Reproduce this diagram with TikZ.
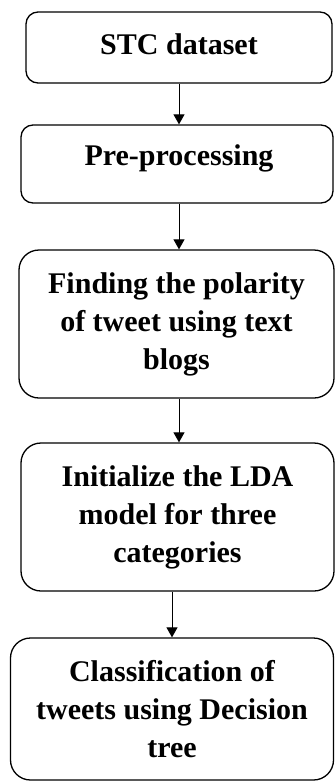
\documentclass[tikz,border=0pt]{standalone}
\usepackage{fontspec}
\setmainfont{Liberation Serif}
\usetikzlibrary{arrows.meta}
\begin{document}
\begin{tikzpicture}[x=1pt,y=1pt,
  stepbox/.style={draw, line width=1.3pt, rounded corners=12pt, align=center,
    inner sep=0pt, font=\fontsize{30}{38}\selectfont\bfseries},
  arr/.style={line width=1pt, -{Triangle[length=10pt,width=11pt]}}]
\useasboundingbox (0,0) rectangle (335,-782);
% process boxes, placed by their corners
\node[stepbox, minimum width=306pt, minimum height=71pt] (b1) at (179,-47.5) {};
\node[font=\fontsize{30}{38}\selectfont\bfseries] at (179,-44) {STC dataset};
\node[stepbox, minimum width=312pt, minimum height=78pt] (b2) at (177,-164) {};
\node[font=\fontsize{30}{38}\selectfont\bfseries] at (179,-158) {Pre-processing};
\node[stepbox, rounded corners=20pt, minimum width=315pt, minimum height=148pt] (b3) at (176.5,-324) {Finding the polarity\\of tweet using text\\blogs};
\node[stepbox, rounded corners=20pt, minimum width=313pt, minimum height=148pt] (b4) at (177.5,-517) {Initialize the LDA\\model for three\\categories};
\node[stepbox, rounded corners=20pt, minimum width=323pt, minimum height=142pt] (b5) at (172,-709) {Classification of\\tweets using Decision\\tree};
% connectors
\draw[arr] (b1.south -| 179,0) -- (b2.north -| 179,0);
\draw[arr] (b2.south -| 179,0) -- (b3.north -| 179,0);
\draw[arr] (b3.south -| 179,0) -- (b4.north -| 179,0);
\draw[arr] (b4.south -| 172,0) -- (b5.north -| 172,0);
\end{tikzpicture}
\end{document}
